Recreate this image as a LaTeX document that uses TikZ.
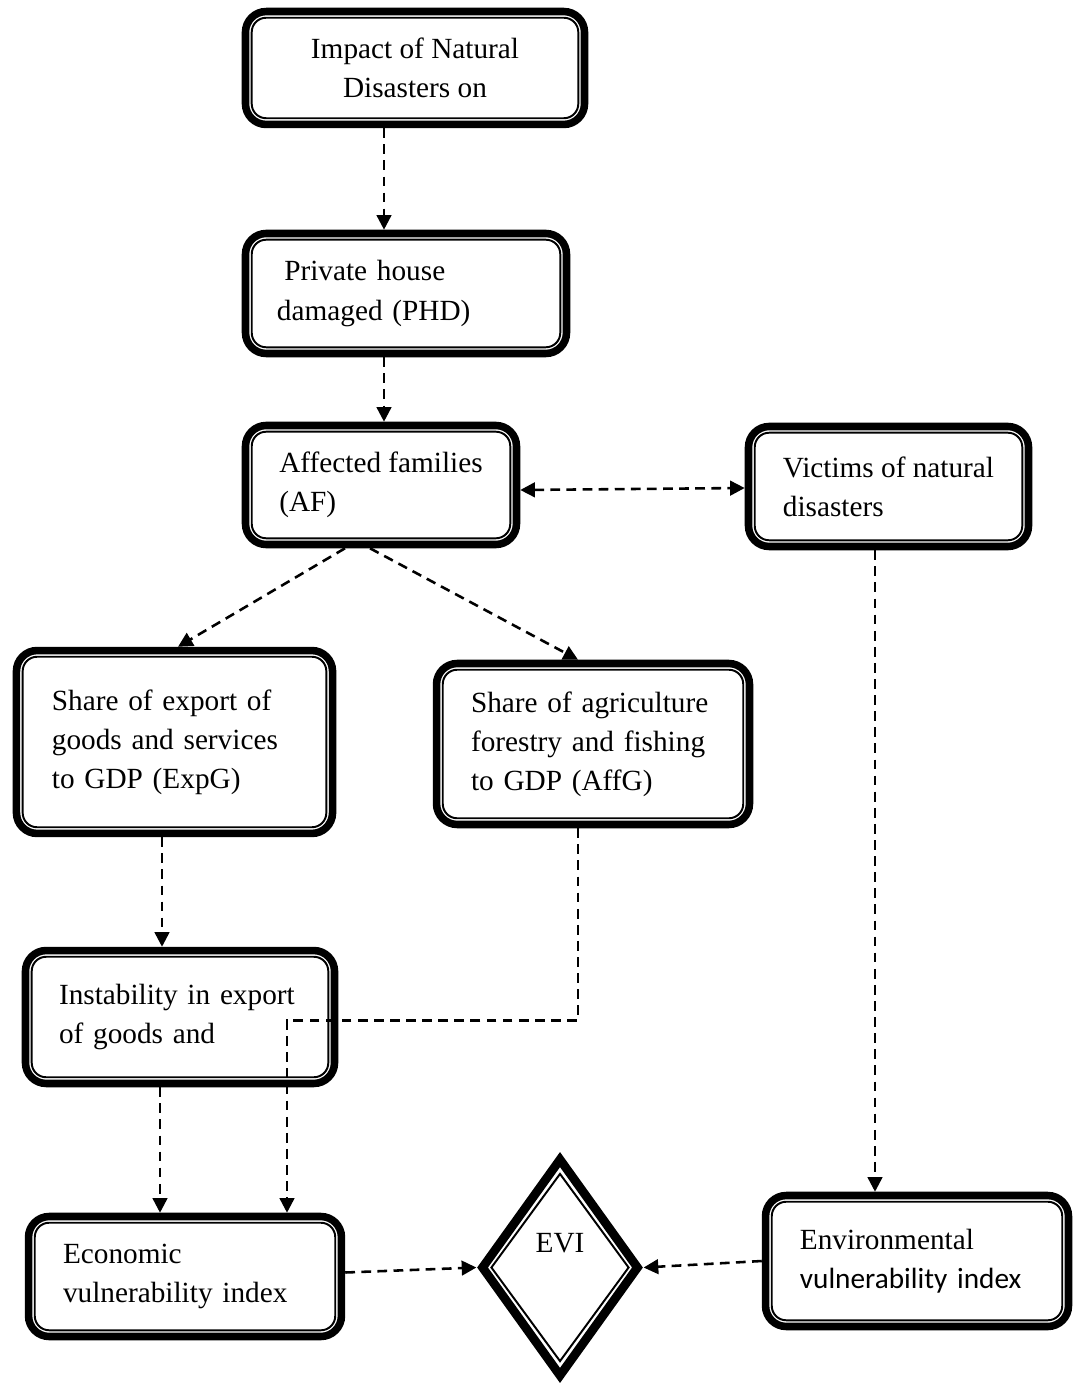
\documentclass[tikz,border=0pt]{standalone}
\usepackage{fontspec}
\setmainfont{Liberation Serif}
\newfontfamily\calibri{Carlito}
\usetikzlibrary{arrows.meta,shapes.geometric,calc}

\tikzset{
  dbox/.style={draw, line width=3.1pt, rounded corners=8.5pt, align=left, inner sep=0pt,
    font=\fontsize{12}{16}\selectfont},
  inbox/.style={line width=0.8pt, rounded corners=5.9pt},
  flow/.style={line width=1.05pt, dash pattern=on 4pt off 2.6pt,
    -{Triangle[length=6pt,width=6pt]}},
}

\begin{document}
\begin{tikzpicture}[x=0.41pt,y=0.41pt,yscale=-1]

\path[use as bounding box, fill=white] (0,0) rectangle (1073,1385);

% boxes
\node[dbox, align=center, minimum width=139pt, minimum height=46.3pt] (imp) at (415,68) {Impact of Natural\\Disasters on};
\node[dbox, text width=105.8pt, minimum width=131.6pt, minimum height=49.2pt] (phd) at (406,293.5) {\hspace*{0.25em}Private house\\damaged (PHD)};
\node[dbox, minimum width=111.1pt, minimum height=48.8pt] (af) at (381,485) {Affected families\\(AF)};
\node[dbox, minimum width=114.8pt, minimum height=49.2pt] (vic) at (888.5,486.5) {Victims of natural\\disasters};
\node[dbox, text width=100.5pt, minimum width=129.6pt, minimum height=75pt] (exp) at (174.5,742) {Share of export of\\goods and services\\to GDP (ExpG)};
\node[dbox, text width=100pt, minimum width=128.3pt, minimum height=66pt] (aff) at (593,744) {Share of agriculture\\forestry and fishing\\to GDP (AffG)};
\node[dbox, text width=99.2pt, minimum width=126.7pt, minimum height=54.5pt] (ins) at (180,1017) {Instability in export\\of goods and};
\node[dbox, text width=100pt, minimum width=128.3pt, minimum height=49.2pt] (econ) at (185,1276.5) {Economic\\vulnerability index};
\node[dbox, text width=96pt, minimum width=124.2pt, minimum height=53.7pt] (env) at (917,1261) {Environmental\\{\calibri vulnerability index}};
\node[draw, diamond, line width=3.6pt, inner sep=0pt, minimum width=65pt, minimum height=90pt,
  label={[shift={(0,24)}, font=\fontsize{12}{16}\selectfont]center:EVI}] (evi) at (560,1267.5) {};

% inner lines
\foreach \n in {imp,phd,af,vic,exp,aff,ins,econ,env}
  \draw[inbox] ([shift={(10,-10)}]\n.south west) rectangle ([shift={(-10,10)}]\n.north east);
\draw[line width=0.8pt] ($(evi.center)!0.82!(evi.north)$) -- ($(evi.center)!0.82!(evi.east)$)
  -- ($(evi.center)!0.82!(evi.south)$) -- ($(evi.center)!0.82!(evi.west)$) -- cycle;

% connectors
\draw[flow] ([shift={(-31,0)}]imp.south) -- ([shift={(-22,0)}]phd.north);
\draw[flow] ([shift={(-22,0)}]phd.south) -- ([shift={(3,0)}]af.north);
\draw[flow, {Triangle[length=6pt,width=6pt]}-{Triangle[length=6pt,width=6pt]}] ([shift={(0,5)}]af.east) -- ([shift={(0,1.5)}]vic.west);
\draw[flow] ([shift={(-36,0)}]af.south) -- ([shift={(3.5,0)}]exp.north);
\draw[flow] ([shift={(-11,0)}]af.south) -- ([shift={(-15,0)}]aff.north);
\draw[flow] ([shift={(-12.5,0)}]exp.south) -- ([shift={(-18,0)}]ins.north);
\draw[flow] ([shift={(-15,0)}]aff.south) -- ++(0,192) -| ([shift={(102,0)}]econ.north);
\draw[flow] ([shift={(-20,0)}]ins.south) -- ([shift={(-25,0)}]econ.north);
\draw[flow] ([shift={(0,-4)}]econ.east) -- (evi.west);
\draw[flow] ([shift={(-13.5,0)}]vic.south) -- ([shift={(-42,0)}]env.north);
\draw[flow] (env.west) -- (evi.east);

\end{tikzpicture}
\end{document}
